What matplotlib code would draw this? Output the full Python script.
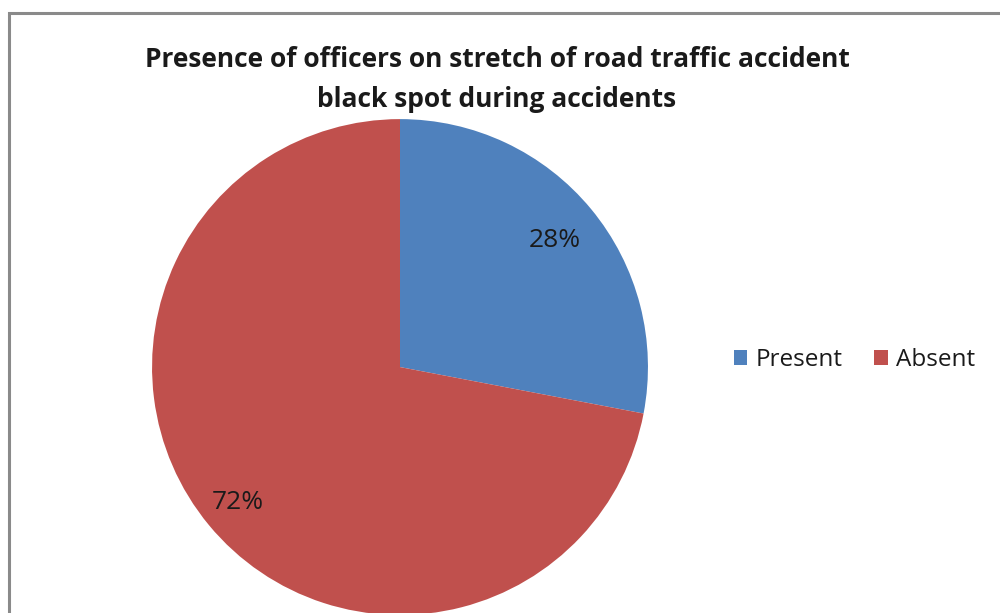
import matplotlib.pyplot as plt
from matplotlib.patches import Rectangle

plt.rcParams['font.family'] = ['Open Sans', 'DejaVu Sans']

# share of accidents with officers on the black spot stretch
labels = ["Present", "Absent"]
shares = [28, 72]
colors = ["#4F81BD", "#C0504D"]

fig = plt.figure(figsize=(10, 6.13), dpi=100)

# grey frame along the top and left
fig.patches.append(Rectangle((0.009, -0.1), 1.2, 0.9788 + 0.1, transform=fig.transFigure,
                             fill=False, edgecolor="#8a8a8a", linewidth=2.2))

fig.text(0.497, 0.871,
         "Presence of officers on stretch of road traffic accident\nblack spot during accidents",
         ha="center", va="center", fontsize=19, fontweight="bold",
         linespacing=1.62, color="#1a1a1a")

ax = fig.add_axes([0.152, -0.0033, 0.496, 0.809])
wedges, _ = ax.pie(shares, colors=colors, startangle=90, counterclock=False,
                   radius=1.0, wedgeprops=dict(linewidth=0))
ax.set_xlim(-1, 1)
ax.set_ylim(-1, 1)
ax.set_aspect("equal")
ax.axis("off")

# percentage labels inside the slices
label_pos = [(0.625, 0.51), (-0.655, -0.548)]
for (x, y), v in zip(label_pos, shares):
    ax.text(x, y, f"{v}%", ha="center", va="center", fontsize=19, color="#1a1a1a")

fig.legend(wedges, labels, loc="center left", bbox_to_anchor=(0.712, 0.413),
           ncol=2, frameon=False, fontsize=17.5, handlelength=0.55, handleheight=0.55,
           handletextpad=0.35, columnspacing=1.3, labelcolor="#1a1a1a")

fig.savefig("out.png", dpi=100)
